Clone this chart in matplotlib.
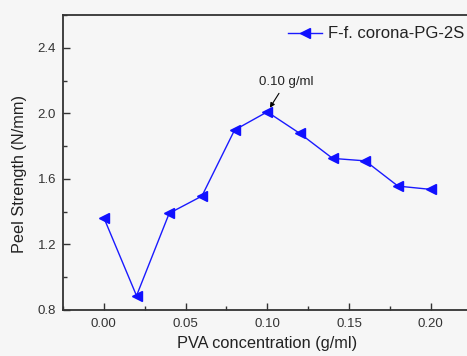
import matplotlib
matplotlib.use("Agg")
import matplotlib.pyplot as plt
from matplotlib.ticker import MultipleLocator

# PVA concentration (g/ml) and peel strength (N/mm)
pva_conc = [0.00, 0.02, 0.04, 0.06, 0.08, 0.10, 0.12, 0.14, 0.16, 0.18, 0.20]
peel_strength = [1.363, 0.887, 1.390, 1.495, 1.898, 2.009, 1.877, 1.725, 1.710, 1.556, 1.536]
series_name = "F-f. corona-PG-2S"
peak_label = "0.10 g/ml"

plt.rcParams['font.family'] = ['Liberation Sans', 'DejaVu Sans']

bg = '#f6f6f6'
fig = plt.figure(figsize=(4.67, 3.56), dpi=100, facecolor=bg)
ax = fig.add_axes([63/467, 1 - 310/356, (471.5 - 63)/467, (310 - 15)/356])
ax.set_facecolor(bg)

ax.plot(pva_conc, peel_strength, color='#1a1aff', lw=1.0, marker='<',
        markersize=7, markerfacecolor='#1010ff', markeredgecolor='#1010ff',
        label=series_name)

ax.set_xlim(-0.025, 0.225)
ax.set_ylim(0.8, 2.6)
ax.xaxis.set_minor_locator(MultipleLocator(0.025))
ax.yaxis.set_minor_locator(MultipleLocator(0.2))
ax.set_xticks([0.0, 0.05, 0.10, 0.15, 0.20])
ax.set_xticklabels(['0.00', '0.05', '0.10', '0.15', '0.20'])
ax.set_yticks([0.8, 1.2, 1.6, 2.0, 2.4])
ax.set_yticklabels(['0.8', '1.2', '1.6', '2.0', '2.4'])
ax.tick_params(which='both', direction='in', colors='#333333', labelsize=9.5, width=1.0)
ax.tick_params(which='major', length=5)
ax.tick_params(which='minor', length=3)
ax.tick_params(axis='x', pad=6)
ax.tick_params(axis='y', pad=5)
for sp in ax.spines.values():
    sp.set_color('#333333')
    sp.set_linewidth(1.3)

ax.set_xlabel('PVA concentration (g/ml)', fontsize=11.8, color='#222222', labelpad=4)
ax.set_ylabel('Peel Strength (N/mm)', fontsize=11.7, color='#222222')
ax.yaxis.set_label_coords(-0.088, 0.46)

ax.annotate(peak_label, xy=(pva_conc[5], peel_strength[5]), xytext=(0.1115, 2.19),
            fontsize=9.5, color='#222222', ha='center', va='center',
            arrowprops=dict(arrowstyle='-|>', color='black', lw=0.8,
                            mutation_scale=7, shrinkA=-2, shrinkB=3.5))

ax.legend(loc='upper right', bbox_to_anchor=(1.02, 1.012), frameon=False,
          fontsize=12, handlelength=2.0, handletextpad=0.4, labelcolor='#222222')

fig.savefig('out.png', dpi=100, facecolor=bg)
